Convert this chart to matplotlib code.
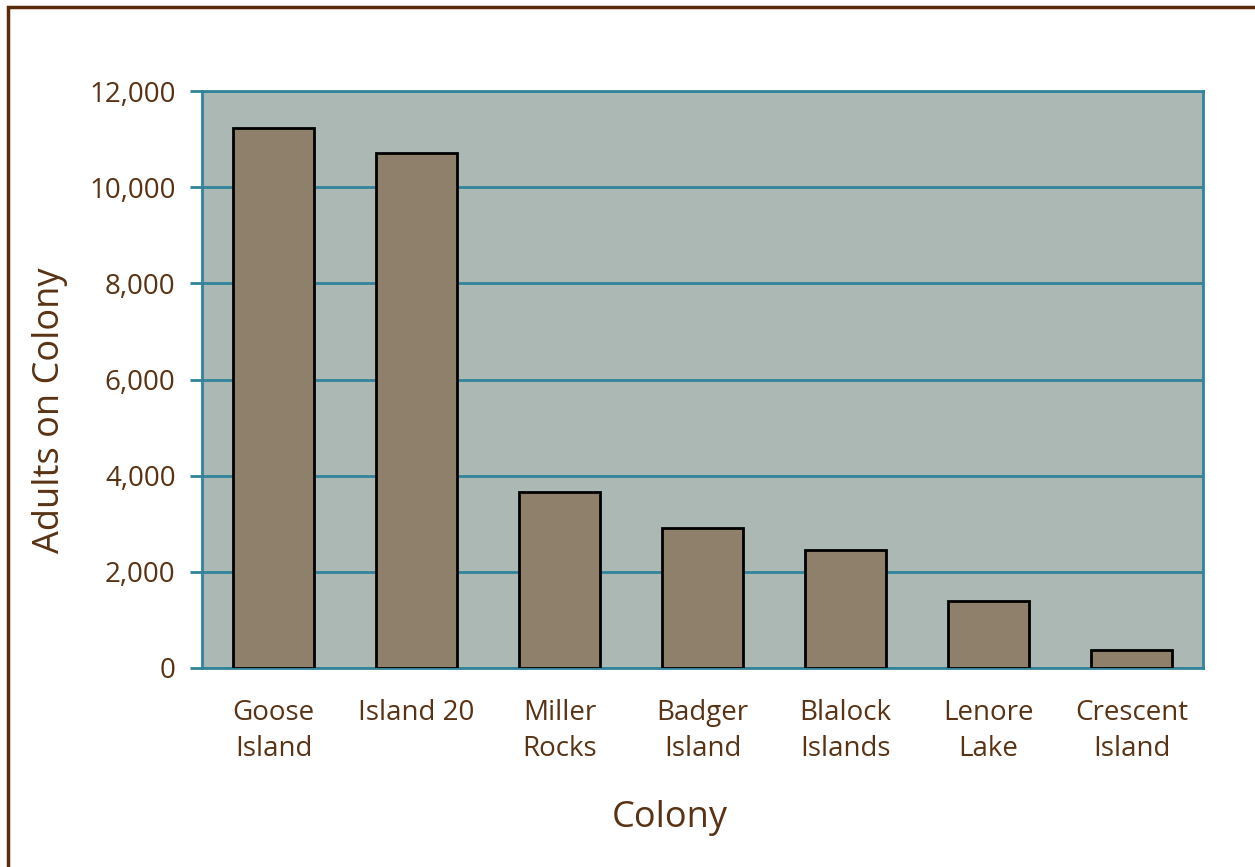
import matplotlib
matplotlib.use("Agg")
import matplotlib.pyplot as plt
from matplotlib.patches import Rectangle
from matplotlib.ticker import FuncFormatter

colonies = ["Goose\nIsland", "Island 20", "Miller\nRocks", "Badger\nIsland",
            "Blalock\nIslands", "Lenore\nLake", "Crescent\nIsland"]
adults = [11230, 10710, 3660, 2910, 2450, 1390, 380]
y_ticks = [0, 2000, 4000, 6000, 8000, 10000, 12000]

TEXT = "#5a3214"
AXIS = "#31849b"
PLOT_BG = "#abb8b3"
BAR = "#8e806a"

plt.rcParams["font.family"] = ["Open Sans", "DejaVu Sans"]

fig = plt.figure(figsize=(12.55, 8.67), dpi=100)
W, H = 1255, 867
ax = fig.add_axes([202 / W, 1 - 668 / H, (1203 - 202) / W, (668 - 91) / H])
ax.set_facecolor(PLOT_BG)

x = range(len(colonies))
ax.bar(x, adults, width=0.57, color=BAR, edgecolor="black", linewidth=2, zorder=3)

ax.set_xlim(-0.5, len(colonies) - 0.5)
ax.set_ylim(0, 12000)
ax.set_yticks(y_ticks)
ax.yaxis.set_major_formatter(FuncFormatter(lambda v, p: f"{int(v):,}"))
ax.set_xticks(list(x))
ax.set_xticklabels(colonies, linespacing=1.42, va="top")

ax.grid(axis="y", color=AXIS, linewidth=2, zorder=1)
for s in ax.spines.values():
    s.set_color(AXIS)
    s.set_linewidth(2)

ax.tick_params(axis="y", colors=AXIS, length=9, width=2, labelcolor=TEXT,
               labelsize=20, pad=10)
ax.tick_params(axis="x", length=0, labelcolor=TEXT, labelsize=20, pad=22)

ax.set_ylabel("Adults on Colony", color=TEXT, fontsize=26)
ax.yaxis.set_label_coords(-0.152, 0.447)
ax.set_xlabel("Colony", color=TEXT, fontsize=26)
ax.xaxis.set_label_coords(0.4675, -0.26)
ax.xaxis.label.set_va("center")
ax.yaxis.label.set_va("center")

# outer frame, open on the right and bottom
fig.patches.append(Rectangle((8 / W, -0.1), 1.2, 1 - 7 / H + 0.1,
                             transform=fig.transFigure, fill=False,
                             edgecolor="#5a2a0a", linewidth=2.5))

fig.savefig("out.png", dpi=100)
